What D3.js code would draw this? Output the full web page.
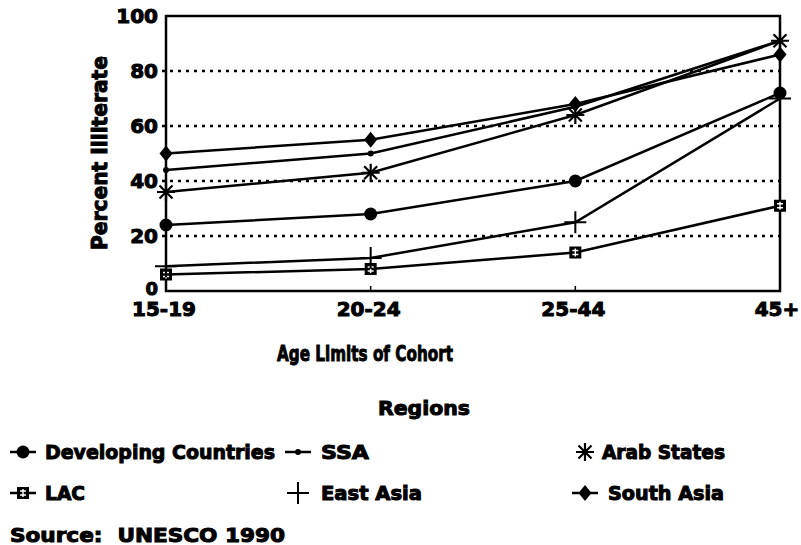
<!DOCTYPE html>
<html>
<head>
<meta charset="utf-8">
<script src="https://cdn.jsdelivr.net/npm/d3@7"></script>
<style>
  body { margin: 0; background: #fff; }
  text { font-family: "DejaVu Sans", sans-serif; font-weight: bold; fill: #000; stroke: #000; stroke-width: 1px; }
</style>
</head>
<body>
<svg width="801" height="545"></svg>
<script>
// age cohorts on the x axis
const cohorts = ['15-19', '20-24', '25-44', '45+'];
const yTicks = [0, 20, 40, 60, 80, 100];

// percent illiterate per region
const developing = [24, 28, 40, 72];
const ssa = [44, 50, 67, 91];
const arabStates = [36, 43, 64, 91];
const lac = [6, 8, 14, 31];
const eastAsia = [9, 12, 25, 70];
const southAsia = [50, 55, 68, 86];

const series = [
  { name: 'Developing Countries', values: developing, marker: 'circle' },
  { name: 'SSA', values: ssa, marker: 'dot' },
  { name: 'Arab States', values: arabStates, marker: 'asterisk' },
  { name: 'LAC', values: lac, marker: 'square' },
  { name: 'East Asia', values: eastAsia, marker: 'plus' },
  { name: 'South Asia', values: southAsia, marker: 'diamond' }
];

const svg = d3.select('svg');
const x = d3.scalePoint().domain(cohorts).range([166, 780]);
const y = d3.scaleLinear().domain([0, 100]).range([291, 16]);

// draw one marker into a group centred at 0,0
const drawMarker = (g, type) => {
  if (type === 'circle') {
    g.append('circle').attr('r', 6.5).attr('fill', '#000');
  } else if (type === 'dot') {
    g.append('circle').attr('r', 3).attr('fill', '#000');
  } else if (type === 'diamond') {
    g.append('path').attr('d', 'M0,-8L6.5,0L0,8L-6.5,0Z').attr('fill', '#000');
  } else if (type === 'square') {
    g.append('rect').attr('x', -6).attr('y', -6).attr('width', 12).attr('height', 12).attr('fill', '#000');
    g.append('path').attr('d', 'M-3,-2H3M-3,2H3M0,-4V4')
      .attr('stroke', '#fff').attr('stroke-width', 1.4);
  } else if (type === 'plus') {
    g.append('path').attr('d', 'M-11,0H11M0,-11V11')
      .attr('stroke', '#000').attr('stroke-width', 2);
  } else if (type === 'asterisk') {
    g.append('path').attr('d', 'M-9,0H9M0,-9V9M-6.5,-6.5L6.5,6.5M-6.5,6.5L6.5,-6.5')
      .attr('stroke', '#000').attr('stroke-width', 2.2);
  }
};

// dotted gridlines
svg.append('g').selectAll('line')
  .data(yTicks.filter(d => d > 0 && d < 100))
  .join('line')
    .attr('x1', x.range()[0] - 4).attr('x2', x.range()[1])
    .attr('y1', d => y(d)).attr('y2', d => y(d))
    .attr('stroke', '#000').attr('stroke-width', 2.4)
    .attr('stroke-dasharray', '3,5');

// frame
svg.append('rect')
  .attr('x', x.range()[0]).attr('y', y(100))
  .attr('width', x.range()[1] - x.range()[0]).attr('height', y(0) - y(100))
  .attr('fill', 'none').attr('stroke', '#000').attr('stroke-width', 2.5);

// x ticks (inward)
svg.append('g').selectAll('line')
  .data(cohorts.slice(1, -1))
  .join('line')
    .attr('x1', d => x(d)).attr('x2', d => x(d))
    .attr('y1', y(0)).attr('y2', y(0) - 5)
    .attr('stroke', '#000').attr('stroke-width', 1.5);

// y tick labels
svg.append('g').selectAll('text')
  .data(yTicks)
  .join('text')
    .attr('x', 158)
    .attr('y', d => y(d) + (d === 0 ? 4 : 7))
    .attr('text-anchor', 'end')
    .attr('font-size', d => d === 0 ? 18 : 20)
    .text(d => d);

// x tick labels
svg.append('g').selectAll('text')
  .data(cohorts)
  .join('text')
    .attr('x', (d, i) => x(d) + (i === cohorts.length - 1 ? -3 : -2))
    .attr('y', 316)
    .attr('text-anchor', 'middle')
    .attr('font-size', 20)
    .text(d => d);

// axis titles
svg.append('text')
  .attr('transform', 'translate(107,153) rotate(-90)')
  .attr('text-anchor', 'middle')
  .attr('font-size', 21)
  .attr('textLength', 194)
  .attr('lengthAdjust', 'spacingAndGlyphs')
  .text('Percent Illiterate');

svg.append('text')
  .attr('x', 365).attr('y', 361)
  .attr('text-anchor', 'middle')
  .attr('font-size', 22)
  .attr('textLength', 176)
  .attr('lengthAdjust', 'spacingAndGlyphs')
  .text('Age Limits of Cohort');

// lines and markers
const line = d3.line()
  .x((d, i) => x(cohorts[i]))
  .y(d => y(d));

const plot = svg.append('g');
series.forEach(s => {
  plot.append('path')
    .attr('d', line(s.values))
    .attr('fill', 'none')
    .attr('stroke', '#000')
    .attr('stroke-width', 2.5);
  s.values.forEach((v, i) => {
    const g = plot.append('g').attr('transform', `translate(${x(cohorts[i])},${y(v)})`);
    drawMarker(g, s.marker);
  });
});

// legend
svg.append('text')
  .attr('x', 424).attr('y', 415)
  .attr('text-anchor', 'middle')
  .attr('font-size', 20)
  .attr('textLength', 92)
  .attr('lengthAdjust', 'spacingAndGlyphs')
  .text('Regions');

const legendCols = [10, 285, 572];
const legendRows = [452, 493];
const legendWidths = [230, 48, 123, 40, 101, 116];
const legend = svg.append('g');
series.forEach((s, i) => {
  const lx = legendCols[i % 3];
  const ly = legendRows[Math.floor(i / 3)];
  const g = legend.append('g').attr('transform', `translate(${lx},${ly})`);
  if (s.marker !== 'plus' && s.marker !== 'asterisk') {
    g.append('line').attr('x1', 0).attr('x2', 26).attr('stroke', '#000').attr('stroke-width', 2.5);
  }
  drawMarker(g.append('g').attr('transform', 'translate(13,0)'), s.marker);
  g.append('text')
    .attr('x', s.marker === 'asterisk' ? 30 : (i % 3 === 0 ? 35 : 36))
    .attr('y', 7)
    .attr('font-size', 19)
    .attr('textLength', legendWidths[i])
    .attr('lengthAdjust', 'spacingAndGlyphs')
    .text(s.name);
});

svg.append('text')
  .attr('x', 10).attr('y', 542)
  .attr('font-size', 19)
  .attr('xml:space', 'preserve')
  .attr('textLength', 275)
  .attr('lengthAdjust', 'spacingAndGlyphs')
  .text('Source:  UNESCO 1990');
</script>
</body>
</html>
